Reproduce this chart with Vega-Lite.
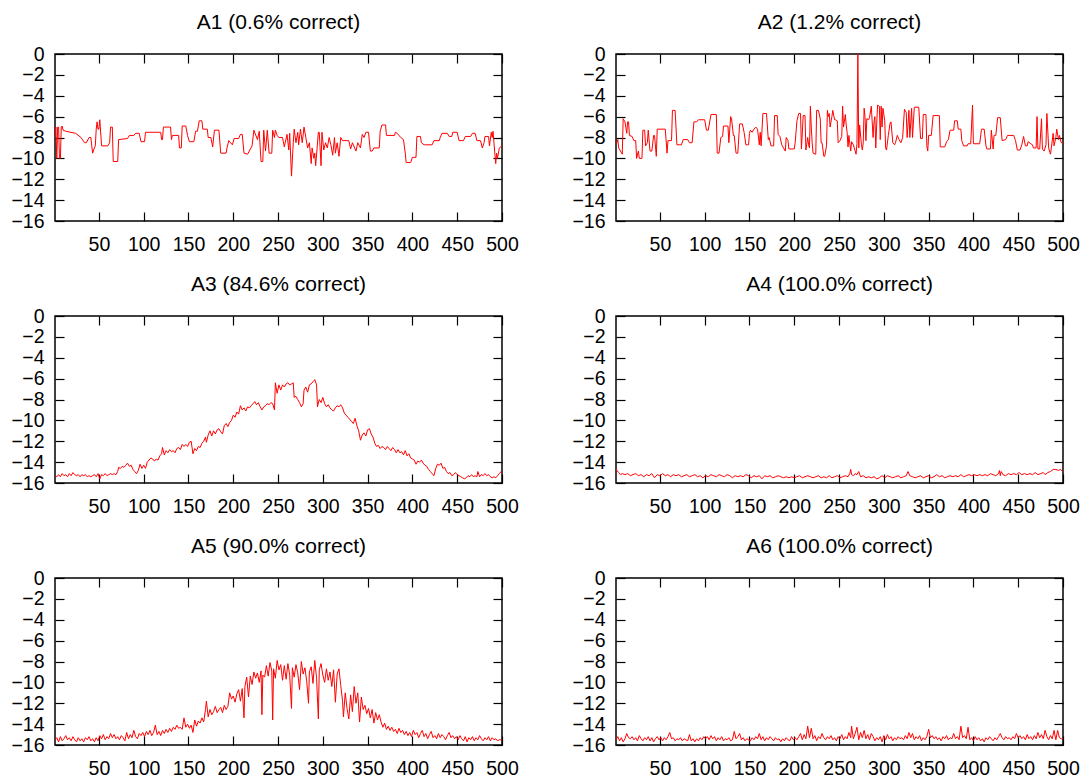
{
"$schema": "https://vega.github.io/schema/vega-lite/v6.json",
"background": "white",
"padding": {"left": 10, "top": 11, "right": 5, "bottom": 5},
"config": {
  "font": "Liberation Sans",
  "view": {"stroke": "#000", "strokeWidth": 1.5},
  "axis": {"domain": false, "grid": false, "tickColor": "#000", "tickWidth": 1.2, "tickSize": -9, "labelFont": "Liberation Sans", "labelFontSize": 19.5, "labelColor": "#000", "labelFlush": false, "labelOverlap": false},
  "title": {"font": "Liberation Sans", "fontSize": 21, "fontWeight": "normal", "color": "#000", "offset": 11}
},
"bounds": "flush",
"columns": 2,
"spacing": {"row": 95, "column": 114},
"datasets": {
"A1": [{"x":1,"y":-8.0},{"x":2,"y":-7.0},{"x":3,"y":-10.0},{"x":4,"y":-7.0},{"x":5,"y":-7.0},{"x":6,"y":-10.0},{"x":7,"y":-10.0},{"x":8,"y":-7.0},{"x":9,"y":-6.9},{"x":10,"y":-7.3},{"x":13,"y":-7.4},{"x":24,"y":-7.6},{"x":30,"y":-8.0},{"x":34,"y":-8.5},{"x":36,"y":-8.5},{"x":39,"y":-8.0},{"x":41,"y":-8.0},{"x":43,"y":-9.5},{"x":45,"y":-9.0},{"x":46,"y":-8.8},{"x":47,"y":-7.2},{"x":48,"y":-6.5},{"x":49,"y":-7.2},{"x":50,"y":-7.2},{"x":51,"y":-6.3},{"x":53,"y":-8.8},{"x":60,"y":-8.8},{"x":62,"y":-8.5},{"x":63,"y":-7.0},{"x":65,"y":-7.0},{"x":66,"y":-10.3},{"x":71,"y":-10.3},{"x":72,"y":-8.2},{"x":82,"y":-8.1},{"x":84,"y":-7.8},{"x":89,"y":-7.8},{"x":91,"y":-7.6},{"x":95,"y":-7.6},{"x":97,"y":-8.4},{"x":101,"y":-8.4},{"x":102,"y":-7.5},{"x":119,"y":-7.5},{"x":120,"y":-8.2},{"x":121,"y":-8.2},{"x":122,"y":-7.0},{"x":130,"y":-7.0},{"x":131,"y":-8.2},{"x":132,"y":-7.8},{"x":139,"y":-7.8},{"x":140,"y":-9.0},{"x":142,"y":-9.0},{"x":143,"y":-6.9},{"x":147,"y":-6.9},{"x":149,"y":-7.8},{"x":151,"y":-8.4},{"x":156,"y":-8.4},{"x":158,"y":-7.4},{"x":160,"y":-7.4},{"x":162,"y":-6.4},{"x":165,"y":-6.4},{"x":166,"y":-7.2},{"x":171,"y":-7.2},{"x":172,"y":-8.0},{"x":175,"y":-8.0},{"x":177,"y":-8.9},{"x":179,"y":-7.3},{"x":184,"y":-7.3},{"x":186,"y":-9.5},{"x":192,"y":-9.5},{"x":193,"y":-9.0},{"x":195,"y":-8.3},{"x":197,"y":-8.5},{"x":199,"y":-8.7},{"x":201,"y":-8.1},{"x":206,"y":-8.1},{"x":208,"y":-7.7},{"x":210,"y":-7.7},{"x":212,"y":-9.5},{"x":216,"y":-9.6},{"x":221,"y":-8.8},{"x":223,"y":-7.3},{"x":227,"y":-8.2},{"x":229,"y":-7.4},{"x":231,"y":-10.3},{"x":233,"y":-10.3},{"x":234,"y":-7.3},{"x":236,"y":-9.3},{"x":238,"y":-7.3},{"x":240,"y":-9.5},{"x":243,"y":-9.5},{"x":244,"y":-7.3},{"x":246,"y":-8.0},{"x":247,"y":-7.3},{"x":249,"y":-7.8},{"x":251,"y":-8.0},{"x":255,"y":-8.0},{"x":257,"y":-8.9},{"x":260,"y":-7.7},{"x":262,"y":-9.2},{"x":263,"y":-7.6},{"x":265,"y":-11.7},{"x":267,"y":-8.5},{"x":268,"y":-7.2},{"x":270,"y":-8.5},{"x":272,"y":-7.5},{"x":273,"y":-8.7},{"x":275,"y":-7.2},{"x":277,"y":-8.5},{"x":279,"y":-7.0},{"x":281,"y":-8.0},{"x":283,"y":-9.0},{"x":285,"y":-8.5},{"x":287,"y":-10.5},{"x":288,"y":-9.0},{"x":290,"y":-10.0},{"x":291,"y":-9.5},{"x":292,"y":-10.7},{"x":295,"y":-7.5},{"x":296,"y":-7.5},{"x":298,"y":-10.7},{"x":299,"y":-7.5},{"x":301,"y":-9.2},{"x":303,"y":-8.5},{"x":305,"y":-9.0},{"x":307,"y":-8.0},{"x":309,"y":-8.7},{"x":311,"y":-9.7},{"x":313,"y":-8.0},{"x":314,"y":-9.5},{"x":316,"y":-8.5},{"x":318,"y":-9.8},{"x":320,"y":-8.0},{"x":322,"y":-8.3},{"x":329,"y":-8.3},{"x":331,"y":-9.1},{"x":333,"y":-8.5},{"x":337,"y":-9.3},{"x":339,"y":-8.5},{"x":342,"y":-9.0},{"x":344,"y":-7.7},{"x":346,"y":-8.0},{"x":348,"y":-7.5},{"x":351,"y":-7.5},{"x":353,"y":-9.3},{"x":355,"y":-9.3},{"x":357,"y":-9.0},{"x":363,"y":-9.0},{"x":364,"y":-7.4},{"x":366,"y":-6.8},{"x":370,"y":-6.8},{"x":371,"y":-7.8},{"x":380,"y":-7.8},{"x":381,"y":-7.5},{"x":383,"y":-7.6},{"x":387,"y":-8.0},{"x":390,"y":-8.2},{"x":392,"y":-9.5},{"x":393,"y":-10.4},{"x":398,"y":-10.4},{"x":400,"y":-9.9},{"x":404,"y":-9.9},{"x":405,"y":-7.9},{"x":409,"y":-7.9},{"x":410,"y":-8.5},{"x":413,"y":-8.7},{"x":422,"y":-8.7},{"x":424,"y":-8.3},{"x":430,"y":-8.3},{"x":431,"y":-8.0},{"x":433,"y":-7.6},{"x":439,"y":-7.6},{"x":441,"y":-7.9},{"x":444,"y":-7.9},{"x":445,"y":-7.5},{"x":450,"y":-7.5},{"x":452,"y":-8.3},{"x":457,"y":-8.3},{"x":459,"y":-7.9},{"x":465,"y":-7.9},{"x":467,"y":-7.6},{"x":470,"y":-7.6},{"x":472,"y":-8.3},{"x":476,"y":-8.3},{"x":478,"y":-9.0},{"x":480,"y":-8.5},{"x":481,"y":-7.9},{"x":485,"y":-7.9},{"x":486,"y":-8.8},{"x":488,"y":-7.5},{"x":489,"y":-8.0},{"x":490,"y":-7.4},{"x":491,"y":-8.5},{"x":493,"y":-10.5},{"x":494,"y":-9.5},{"x":495,"y":-10.0},{"x":497,"y":-9.0},{"x":500,"y":-8.8}],
"A2": [{"x":1,"y":-8.5},{"x":2,"y":-8.5},{"x":3,"y":-8.2},{"x":4,"y":-9.0},{"x":6,"y":-9.3},{"x":8,"y":-9.6},{"x":9,"y":-6.2},{"x":11,"y":-6.5},{"x":13,"y":-7.6},{"x":14,"y":-6.5},{"x":15,"y":-6.5},{"x":16,"y":-7.8},{"x":19,"y":-7.9},{"x":21,"y":-8.3},{"x":23,"y":-8.3},{"x":24,"y":-10.0},{"x":26,"y":-9.3},{"x":27,"y":-10.0},{"x":30,"y":-10.0},{"x":31,"y":-7.3},{"x":33,"y":-7.3},{"x":34,"y":-8.8},{"x":36,"y":-8.5},{"x":37,"y":-7.3},{"x":39,"y":-9.3},{"x":41,"y":-9.3},{"x":43,"y":-7.8},{"x":44,"y":-7.8},{"x":46,"y":-9.8},{"x":47,"y":-7.2},{"x":56,"y":-7.2},{"x":58,"y":-9.5},{"x":59,"y":-8.3},{"x":63,"y":-8.3},{"x":64,"y":-5.4},{"x":67,"y":-5.4},{"x":69,"y":-8.7},{"x":74,"y":-8.7},{"x":76,"y":-8.2},{"x":81,"y":-8.2},{"x":83,"y":-8.5},{"x":86,"y":-8.5},{"x":88,"y":-6.5},{"x":91,"y":-6.5},{"x":93,"y":-6.3},{"x":100,"y":-6.3},{"x":102,"y":-7.3},{"x":104,"y":-7.3},{"x":107,"y":-5.8},{"x":113,"y":-5.8},{"x":114,"y":-9.5},{"x":116,"y":-9.5},{"x":118,"y":-8.0},{"x":120,"y":-7.9},{"x":121,"y":-6.9},{"x":126,"y":-6.9},{"x":127,"y":-8.5},{"x":129,"y":-6.0},{"x":130,"y":-6.2},{"x":132,"y":-7.8},{"x":133,"y":-7.8},{"x":135,"y":-9.5},{"x":137,"y":-9.5},{"x":139,"y":-6.7},{"x":142,"y":-6.7},{"x":144,"y":-7.5},{"x":146,"y":-8.7},{"x":149,"y":-8.7},{"x":150,"y":-7.6},{"x":151,"y":-7.3},{"x":153,"y":-7.5},{"x":155,"y":-7.2},{"x":157,"y":-7.0},{"x":159,"y":-7.2},{"x":161,"y":-8.7},{"x":162,"y":-7.5},{"x":163,"y":-8.8},{"x":165,"y":-5.7},{"x":169,"y":-5.7},{"x":171,"y":-8.2},{"x":172,"y":-8.0},{"x":174,"y":-8.8},{"x":177,"y":-8.8},{"x":178,"y":-5.9},{"x":181,"y":-5.9},{"x":182,"y":-7.7},{"x":184,"y":-7.9},{"x":186,"y":-8.7},{"x":188,"y":-9.0},{"x":190,"y":-9.3},{"x":191,"y":-8.0},{"x":193,"y":-8.3},{"x":194,"y":-9.1},{"x":200,"y":-9.1},{"x":201,"y":-8.5},{"x":203,"y":-6.4},{"x":205,"y":-5.7},{"x":207,"y":-5.7},{"x":208,"y":-9.1},{"x":210,"y":-5.9},{"x":212,"y":-5.9},{"x":213,"y":-9.2},{"x":215,"y":-8.0},{"x":216,"y":-8.7},{"x":217,"y":-9.0},{"x":218,"y":-5.0},{"x":219,"y":-7.0},{"x":220,"y":-8.5},{"x":221,"y":-9.5},{"x":224,"y":-9.6},{"x":225,"y":-5.4},{"x":227,"y":-5.4},{"x":229,"y":-6.2},{"x":230,"y":-8.5},{"x":231,"y":-8.5},{"x":233,"y":-9.8},{"x":234,"y":-9.8},{"x":236,"y":-8.8},{"x":237,"y":-5.4},{"x":238,"y":-6.0},{"x":239,"y":-5.7},{"x":240,"y":-7.0},{"x":242,"y":-6.0},{"x":243,"y":-5.4},{"x":245,"y":-6.3},{"x":246,"y":-6.3},{"x":248,"y":-6.4},{"x":249,"y":-8.5},{"x":251,"y":-8.3},{"x":253,"y":-7.9},{"x":254,"y":-5.0},{"x":255,"y":-7.0},{"x":257,"y":-5.8},{"x":258,"y":-6.8},{"x":259,"y":-7.5},{"x":260,"y":-8.9},{"x":261,"y":-7.8},{"x":263,"y":-9.3},{"x":264,"y":-8.4},{"x":266,"y":-8.7},{"x":267,"y":-9.0},{"x":269,"y":-9.6},{"x":270,"y":-8.6},{"x":271,"y":0},{"x":272,"y":-9.0},{"x":273,"y":-6.8},{"x":275,"y":-8.7},{"x":276,"y":-9.2},{"x":277,"y":-8.5},{"x":278,"y":-5.2},{"x":279,"y":-6.0},{"x":280,"y":-8.3},{"x":281,"y":-6.2},{"x":283,"y":-6.3},{"x":284,"y":-6.1},{"x":286,"y":-5.0},{"x":287,"y":-6.5},{"x":288,"y":-8.0},{"x":289,"y":-6.5},{"x":290,"y":-6.0},{"x":291,"y":-9.0},{"x":292,"y":-6.8},{"x":293,"y":-4.9},{"x":295,"y":-5.0},{"x":296,"y":-8.2},{"x":297,"y":-5.0},{"x":298,"y":-7.0},{"x":299,"y":-5.2},{"x":301,"y":-6.4},{"x":302,"y":-9.0},{"x":303,"y":-9.2},{"x":305,"y":-7.8},{"x":307,"y":-6.6},{"x":308,"y":-6.5},{"x":310,"y":-8.5},{"x":312,"y":-8.7},{"x":313,"y":-8.5},{"x":315,"y":-7.8},{"x":317,"y":-8.2},{"x":319,"y":-8.5},{"x":321,"y":-8.0},{"x":323,"y":-5.3},{"x":325,"y":-5.6},{"x":326,"y":-8.0},{"x":328,"y":-5.4},{"x":329,"y":-8.0},{"x":331,"y":-5.2},{"x":332,"y":-8.0},{"x":334,"y":-5.1},{"x":339,"y":-5.1},{"x":341,"y":-8.1},{"x":343,"y":-8.1},{"x":344,"y":-5.8},{"x":347,"y":-5.8},{"x":348,"y":-8.8},{"x":349,"y":-9.3},{"x":350,"y":-7.8},{"x":353,"y":-7.8},{"x":355,"y":-5.9},{"x":362,"y":-5.9},{"x":363,"y":-8.9},{"x":368,"y":-8.9},{"x":370,"y":-8.4},{"x":372,"y":-8.2},{"x":374,"y":-7.3},{"x":378,"y":-7.3},{"x":379,"y":-6.4},{"x":382,"y":-6.4},{"x":383,"y":-7.2},{"x":386,"y":-7.2},{"x":387,"y":-8.3},{"x":389,"y":-8.8},{"x":393,"y":-8.8},{"x":394,"y":-8.6},{"x":397,"y":-8.6},{"x":399,"y":-4.9},{"x":400,"y":-8.6},{"x":407,"y":-8.6},{"x":409,"y":-7.2},{"x":412,"y":-7.2},{"x":414,"y":-8.8},{"x":415,"y":-9.1},{"x":419,"y":-9.1},{"x":420,"y":-7.3},{"x":422,"y":-9.1},{"x":423,"y":-7.8},{"x":425,"y":-7.8},{"x":427,"y":-6.1},{"x":430,"y":-6.1},{"x":432,"y":-8.3},{"x":436,"y":-8.2},{"x":438,"y":-7.8},{"x":445,"y":-7.8},{"x":447,"y":-8.3},{"x":449,"y":-9.2},{"x":452,"y":-9.2},{"x":454,"y":-8.7},{"x":456,"y":-7.9},{"x":458,"y":-8.8},{"x":460,"y":-8.8},{"x":461,"y":-8.4},{"x":464,"y":-8.6},{"x":466,"y":-8.7},{"x":467,"y":-9.0},{"x":470,"y":-9.0},{"x":471,"y":-6.0},{"x":472,"y":-9.1},{"x":474,"y":-9.1},{"x":476,"y":-6.2},{"x":477,"y":-9.1},{"x":479,"y":-9.3},{"x":481,"y":-8.7},{"x":482,"y":-5.7},{"x":484,"y":-9.0},{"x":486,"y":-9.6},{"x":487,"y":-9.0},{"x":489,"y":-7.6},{"x":490,"y":-8.8},{"x":492,"y":-8.0},{"x":493,"y":-7.2},{"x":495,"y":-8.2},{"x":496,"y":-7.8},{"x":498,"y":-8.5},{"x":500,"y":-8.5}],
"A3": [{"x":1,"y":-15.3},{"x":3,"y":-15.4},{"x":5,"y":-15.2},{"x":7,"y":-15.4},{"x":9,"y":-15.1},{"x":11,"y":-15.3},{"x":13,"y":-15.2},{"x":15,"y":-15.4},{"x":17,"y":-15.1},{"x":19,"y":-15.3},{"x":21,"y":-15.0},{"x":23,"y":-15.2},{"x":25,"y":-15.3},{"x":27,"y":-15.2},{"x":29,"y":-15.4},{"x":31,"y":-15.2},{"x":33,"y":-15.3},{"x":35,"y":-15.2},{"x":37,"y":-15.4},{"x":39,"y":-15.3},{"x":41,"y":-15.4},{"x":43,"y":-15.3},{"x":45,"y":-15.2},{"x":47,"y":-15.4},{"x":49,"y":-15.1},{"x":51,"y":-15.6},{"x":53,"y":-15.2},{"x":55,"y":-15.3},{"x":57,"y":-15.1},{"x":59,"y":-15.3},{"x":61,"y":-15.2},{"x":63,"y":-15.1},{"x":65,"y":-15.2},{"x":67,"y":-15.1},{"x":69,"y":-15.2},{"x":71,"y":-14.9},{"x":72,"y":-14.5},{"x":74,"y":-14.6},{"x":76,"y":-14.4},{"x":78,"y":-14.5},{"x":80,"y":-14.3},{"x":82,"y":-14.1},{"x":84,"y":-14.4},{"x":86,"y":-14.3},{"x":88,"y":-14.7},{"x":90,"y":-14.9},{"x":92,"y":-15.1},{"x":94,"y":-14.8},{"x":96,"y":-14.2},{"x":98,"y":-14.6},{"x":100,"y":-14.3},{"x":102,"y":-14.6},{"x":104,"y":-14.0},{"x":106,"y":-13.8},{"x":108,"y":-13.6},{"x":110,"y":-13.7},{"x":112,"y":-13.9},{"x":114,"y":-13.7},{"x":116,"y":-13.8},{"x":118,"y":-13.4},{"x":120,"y":-13.2},{"x":121,"y":-12.6},{"x":123,"y":-13.3},{"x":125,"y":-12.9},{"x":127,"y":-13.1},{"x":129,"y":-12.8},{"x":131,"y":-13.0},{"x":133,"y":-12.9},{"x":135,"y":-13.1},{"x":137,"y":-12.7},{"x":139,"y":-12.6},{"x":141,"y":-12.8},{"x":143,"y":-12.3},{"x":145,"y":-12.5},{"x":147,"y":-12.3},{"x":149,"y":-12.5},{"x":151,"y":-12.1},{"x":153,"y":-12.0},{"x":154,"y":-12.6},{"x":155,"y":-13.2},{"x":157,"y":-12.7},{"x":159,"y":-12.9},{"x":161,"y":-12.5},{"x":163,"y":-12.6},{"x":165,"y":-12.2},{"x":167,"y":-12.0},{"x":169,"y":-11.6},{"x":170,"y":-12.1},{"x":172,"y":-11.4},{"x":174,"y":-11.0},{"x":176,"y":-11.5},{"x":178,"y":-11.0},{"x":180,"y":-11.3},{"x":182,"y":-10.9},{"x":184,"y":-10.8},{"x":186,"y":-11.1},{"x":188,"y":-11.3},{"x":190,"y":-10.5},{"x":192,"y":-10.3},{"x":194,"y":-10.6},{"x":196,"y":-10.2},{"x":198,"y":-10.0},{"x":200,"y":-9.5},{"x":202,"y":-9.7},{"x":204,"y":-9.2},{"x":206,"y":-9.4},{"x":208,"y":-8.6},{"x":210,"y":-9.0},{"x":212,"y":-8.8},{"x":214,"y":-9.1},{"x":216,"y":-8.7},{"x":218,"y":-8.8},{"x":220,"y":-8.6},{"x":222,"y":-8.4},{"x":224,"y":-8.2},{"x":226,"y":-8.5},{"x":228,"y":-8.3},{"x":230,"y":-8.7},{"x":232,"y":-9.0},{"x":234,"y":-8.7},{"x":236,"y":-8.6},{"x":238,"y":-8.4},{"x":240,"y":-8.5},{"x":242,"y":-8.3},{"x":244,"y":-8.4},{"x":246,"y":-9.0},{"x":247,"y":-6.4},{"x":249,"y":-7.4},{"x":251,"y":-6.6},{"x":253,"y":-7.1},{"x":255,"y":-6.6},{"x":257,"y":-6.8},{"x":259,"y":-6.5},{"x":261,"y":-6.4},{"x":263,"y":-6.6},{"x":265,"y":-6.5},{"x":267,"y":-6.4},{"x":268,"y":-7.8},{"x":270,"y":-7.7},{"x":272,"y":-8.0},{"x":274,"y":-8.3},{"x":276,"y":-8.7},{"x":278,"y":-8.4},{"x":279,"y":-7.1},{"x":281,"y":-6.8},{"x":283,"y":-7.3},{"x":285,"y":-6.6},{"x":287,"y":-6.5},{"x":289,"y":-6.3},{"x":291,"y":-6.1},{"x":293,"y":-6.6},{"x":294,"y":-8.7},{"x":296,"y":-8.0},{"x":298,"y":-8.3},{"x":300,"y":-7.8},{"x":302,"y":-8.4},{"x":304,"y":-8.7},{"x":306,"y":-8.5},{"x":308,"y":-8.8},{"x":310,"y":-9.0},{"x":312,"y":-9.1},{"x":314,"y":-8.8},{"x":316,"y":-8.6},{"x":318,"y":-8.7},{"x":320,"y":-8.5},{"x":322,"y":-8.8},{"x":324,"y":-9.3},{"x":326,"y":-9.5},{"x":328,"y":-9.7},{"x":330,"y":-9.9},{"x":332,"y":-10.1},{"x":334,"y":-10.3},{"x":336,"y":-9.8},{"x":338,"y":-10.5},{"x":340,"y":-11.0},{"x":342,"y":-11.9},{"x":344,"y":-11.4},{"x":346,"y":-11.2},{"x":348,"y":-11.5},{"x":350,"y":-10.9},{"x":352,"y":-10.8},{"x":354,"y":-11.3},{"x":356,"y":-11.6},{"x":358,"y":-12.2},{"x":360,"y":-12.5},{"x":362,"y":-12.4},{"x":364,"y":-12.7},{"x":366,"y":-12.5},{"x":368,"y":-12.6},{"x":370,"y":-12.8},{"x":372,"y":-12.5},{"x":374,"y":-12.7},{"x":376,"y":-12.9},{"x":378,"y":-12.6},{"x":380,"y":-12.8},{"x":382,"y":-13.1},{"x":384,"y":-12.8},{"x":386,"y":-13.1},{"x":388,"y":-13.0},{"x":390,"y":-13.3},{"x":392,"y":-12.9},{"x":394,"y":-13.4},{"x":396,"y":-13.2},{"x":398,"y":-13.6},{"x":400,"y":-13.7},{"x":402,"y":-13.8},{"x":404,"y":-14.2},{"x":406,"y":-13.9},{"x":408,"y":-14.0},{"x":410,"y":-13.8},{"x":412,"y":-14.1},{"x":414,"y":-14.3},{"x":416,"y":-14.4},{"x":418,"y":-14.7},{"x":420,"y":-14.9},{"x":422,"y":-15.1},{"x":424,"y":-15.3},{"x":426,"y":-14.6},{"x":428,"y":-14.2},{"x":430,"y":-14.3},{"x":432,"y":-14.1},{"x":434,"y":-14.6},{"x":436,"y":-14.5},{"x":438,"y":-14.9},{"x":440,"y":-15.1},{"x":442,"y":-15.0},{"x":444,"y":-15.3},{"x":446,"y":-15.2},{"x":448,"y":-15.0},{"x":450,"y":-15.2},{"x":452,"y":-15.3},{"x":454,"y":-15.4},{"x":456,"y":-15.5},{"x":458,"y":-15.6},{"x":460,"y":-15.5},{"x":462,"y":-15.3},{"x":464,"y":-15.4},{"x":466,"y":-15.2},{"x":468,"y":-15.4},{"x":470,"y":-15.3},{"x":472,"y":-15.4},{"x":473,"y":-14.9},{"x":475,"y":-15.4},{"x":477,"y":-15.2},{"x":479,"y":-15.3},{"x":481,"y":-15.1},{"x":483,"y":-15.3},{"x":485,"y":-15.2},{"x":487,"y":-15.4},{"x":489,"y":-15.5},{"x":491,"y":-15.4},{"x":493,"y":-15.5},{"x":495,"y":-15.3},{"x":497,"y":-15.1},{"x":499,"y":-14.9},{"x":500,"y":-15.0}],
"A4": [{"x":1,"y":-14.6},{"x":2,"y":-14.8},{"x":4,"y":-15.0},{"x":6,"y":-15.2},{"x":8,"y":-15.1},{"x":11,"y":-15.2},{"x":14,"y":-15.1},{"x":17,"y":-15.3},{"x":20,"y":-15.2},{"x":23,"y":-15.1},{"x":26,"y":-15.3},{"x":29,"y":-15.2},{"x":32,"y":-15.4},{"x":35,"y":-15.2},{"x":38,"y":-15.3},{"x":41,"y":-15.1},{"x":44,"y":-15.5},{"x":47,"y":-15.2},{"x":50,"y":-15.3},{"x":53,"y":-15.1},{"x":56,"y":-15.3},{"x":59,"y":-15.2},{"x":62,"y":-15.4},{"x":65,"y":-15.2},{"x":68,"y":-15.3},{"x":71,"y":-15.2},{"x":74,"y":-15.4},{"x":77,"y":-15.3},{"x":80,"y":-15.2},{"x":83,"y":-15.4},{"x":86,"y":-15.3},{"x":89,"y":-15.2},{"x":92,"y":-15.4},{"x":95,"y":-15.3},{"x":98,"y":-15.5},{"x":101,"y":-15.3},{"x":104,"y":-15.4},{"x":107,"y":-15.2},{"x":110,"y":-15.3},{"x":113,"y":-15.4},{"x":116,"y":-15.2},{"x":119,"y":-15.3},{"x":122,"y":-15.4},{"x":125,"y":-15.2},{"x":128,"y":-15.3},{"x":131,"y":-15.5},{"x":134,"y":-15.3},{"x":137,"y":-15.4},{"x":140,"y":-15.3},{"x":143,"y":-15.4},{"x":146,"y":-15.2},{"x":149,"y":-15.3},{"x":152,"y":-15.5},{"x":155,"y":-15.3},{"x":158,"y":-15.4},{"x":161,"y":-15.3},{"x":164,"y":-15.6},{"x":167,"y":-15.3},{"x":170,"y":-15.4},{"x":173,"y":-15.3},{"x":176,"y":-15.5},{"x":179,"y":-15.4},{"x":182,"y":-15.3},{"x":185,"y":-15.4},{"x":188,"y":-15.5},{"x":191,"y":-15.4},{"x":194,"y":-15.5},{"x":197,"y":-15.4},{"x":200,"y":-15.5},{"x":203,"y":-15.4},{"x":206,"y":-15.3},{"x":209,"y":-15.5},{"x":212,"y":-15.4},{"x":215,"y":-15.3},{"x":218,"y":-15.4},{"x":221,"y":-15.5},{"x":224,"y":-15.4},{"x":227,"y":-15.3},{"x":230,"y":-15.5},{"x":233,"y":-15.4},{"x":236,"y":-15.5},{"x":239,"y":-15.3},{"x":242,"y":-15.5},{"x":245,"y":-15.4},{"x":248,"y":-15.3},{"x":251,"y":-15.5},{"x":254,"y":-15.4},{"x":257,"y":-15.3},{"x":260,"y":-15.4},{"x":262,"y":-15.1},{"x":263,"y":-14.7},{"x":264,"y":-15.2},{"x":266,"y":-15.3},{"x":268,"y":-15.1},{"x":270,"y":-15.2},{"x":272,"y":-14.9},{"x":274,"y":-15.4},{"x":277,"y":-15.3},{"x":280,"y":-15.5},{"x":283,"y":-15.4},{"x":286,"y":-15.5},{"x":289,"y":-15.4},{"x":292,"y":-15.6},{"x":295,"y":-15.5},{"x":298,"y":-15.3},{"x":301,"y":-15.5},{"x":304,"y":-15.3},{"x":307,"y":-15.4},{"x":310,"y":-15.5},{"x":313,"y":-15.4},{"x":316,"y":-15.3},{"x":319,"y":-15.5},{"x":322,"y":-15.4},{"x":325,"y":-15.3},{"x":327,"y":-14.9},{"x":329,"y":-15.3},{"x":332,"y":-15.4},{"x":335,"y":-15.5},{"x":338,"y":-15.4},{"x":341,"y":-15.3},{"x":344,"y":-15.5},{"x":347,"y":-15.4},{"x":350,"y":-15.3},{"x":353,"y":-15.5},{"x":356,"y":-15.4},{"x":359,"y":-15.2},{"x":362,"y":-15.4},{"x":365,"y":-15.3},{"x":368,"y":-15.5},{"x":371,"y":-15.4},{"x":374,"y":-15.3},{"x":377,"y":-15.4},{"x":380,"y":-15.3},{"x":383,"y":-15.4},{"x":386,"y":-15.2},{"x":389,"y":-15.4},{"x":392,"y":-15.3},{"x":395,"y":-15.2},{"x":398,"y":-15.3},{"x":401,"y":-15.2},{"x":404,"y":-15.3},{"x":407,"y":-15.2},{"x":410,"y":-15.3},{"x":413,"y":-15.2},{"x":416,"y":-15.3},{"x":419,"y":-15.1},{"x":422,"y":-15.2},{"x":425,"y":-15.3},{"x":428,"y":-15.1},{"x":429,"y":-14.8},{"x":430,"y":-15.3},{"x":431,"y":-14.9},{"x":433,"y":-15.2},{"x":436,"y":-15.3},{"x":439,"y":-15.1},{"x":442,"y":-15.2},{"x":445,"y":-15.1},{"x":448,"y":-15.2},{"x":451,"y":-15.0},{"x":454,"y":-15.2},{"x":457,"y":-15.1},{"x":460,"y":-15.2},{"x":463,"y":-15.1},{"x":466,"y":-15.2},{"x":469,"y":-15.0},{"x":472,"y":-15.2},{"x":475,"y":-15.1},{"x":478,"y":-15.0},{"x":480,"y":-15.2},{"x":483,"y":-15.0},{"x":486,"y":-14.9},{"x":489,"y":-14.7},{"x":492,"y":-14.7},{"x":495,"y":-14.8},{"x":497,"y":-14.7},{"x":500,"y":-14.9}],
"A5": [{"x":1,"y":-15.5},{"x":3,"y":-15.3},{"x":5,"y":-15.7},{"x":7,"y":-15.2},{"x":9,"y":-15.6},{"x":11,"y":-15.4},{"x":13,"y":-15.1},{"x":15,"y":-15.5},{"x":17,"y":-15.3},{"x":19,"y":-15.6},{"x":21,"y":-15.2},{"x":23,"y":-15.5},{"x":25,"y":-15.7},{"x":27,"y":-15.3},{"x":29,"y":-15.6},{"x":31,"y":-15.4},{"x":33,"y":-15.7},{"x":35,"y":-15.3},{"x":37,"y":-15.5},{"x":39,"y":-15.2},{"x":41,"y":-15.6},{"x":43,"y":-15.4},{"x":45,"y":-15.7},{"x":47,"y":-15.3},{"x":49,"y":-15.6},{"x":51,"y":-15.1},{"x":53,"y":-15.4},{"x":55,"y":-15.0},{"x":57,"y":-15.5},{"x":59,"y":-15.2},{"x":61,"y":-15.4},{"x":63,"y":-14.9},{"x":65,"y":-15.3},{"x":67,"y":-15.0},{"x":69,"y":-15.4},{"x":71,"y":-15.2},{"x":73,"y":-15.5},{"x":75,"y":-15.1},{"x":77,"y":-15.3},{"x":79,"y":-15.6},{"x":81,"y":-14.8},{"x":83,"y":-15.4},{"x":85,"y":-15.0},{"x":87,"y":-15.3},{"x":89,"y":-14.6},{"x":91,"y":-15.2},{"x":93,"y":-15.4},{"x":95,"y":-14.9},{"x":97,"y":-15.1},{"x":99,"y":-14.8},{"x":101,"y":-15.2},{"x":103,"y":-14.7},{"x":105,"y":-15.0},{"x":107,"y":-14.6},{"x":109,"y":-15.1},{"x":111,"y":-14.8},{"x":113,"y":-14.1},{"x":115,"y":-15.0},{"x":117,"y":-14.7},{"x":119,"y":-15.1},{"x":121,"y":-14.6},{"x":123,"y":-14.9},{"x":125,"y":-14.5},{"x":127,"y":-14.8},{"x":129,"y":-14.4},{"x":131,"y":-14.7},{"x":133,"y":-14.3},{"x":135,"y":-14.5},{"x":137,"y":-14.1},{"x":139,"y":-14.4},{"x":141,"y":-14.3},{"x":143,"y":-14.5},{"x":145,"y":-13.4},{"x":147,"y":-14.3},{"x":149,"y":-14.0},{"x":151,"y":-14.4},{"x":153,"y":-14.1},{"x":155,"y":-14.8},{"x":157,"y":-13.6},{"x":159,"y":-14.2},{"x":161,"y":-13.7},{"x":163,"y":-13.9},{"x":165,"y":-13.4},{"x":167,"y":-13.8},{"x":169,"y":-12.6},{"x":170,"y":-11.8},{"x":172,"y":-13.3},{"x":174,"y":-12.6},{"x":176,"y":-13.1},{"x":178,"y":-12.8},{"x":180,"y":-12.3},{"x":182,"y":-12.9},{"x":184,"y":-12.6},{"x":186,"y":-12.4},{"x":188,"y":-12.9},{"x":190,"y":-12.2},{"x":192,"y":-12.6},{"x":194,"y":-12.3},{"x":196,"y":-11.0},{"x":198,"y":-11.6},{"x":200,"y":-11.3},{"x":202,"y":-11.9},{"x":204,"y":-11.1},{"x":206,"y":-10.7},{"x":208,"y":-11.8},{"x":210,"y":-10.6},{"x":212,"y":-13.4},{"x":213,"y":-10.4},{"x":215,"y":-9.5},{"x":217,"y":-11.4},{"x":219,"y":-9.4},{"x":221,"y":-10.2},{"x":223,"y":-9.0},{"x":225,"y":-9.6},{"x":227,"y":-9.1},{"x":229,"y":-10.0},{"x":231,"y":-8.9},{"x":232,"y":-13.1},{"x":233,"y":-9.3},{"x":235,"y":-9.5},{"x":237,"y":-8.4},{"x":239,"y":-9.4},{"x":241,"y":-8.1},{"x":243,"y":-8.9},{"x":244,"y":-13.6},{"x":245,"y":-8.7},{"x":247,"y":-9.6},{"x":249,"y":-7.9},{"x":251,"y":-8.8},{"x":253,"y":-8.3},{"x":255,"y":-9.8},{"x":257,"y":-8.4},{"x":259,"y":-9.7},{"x":261,"y":-8.2},{"x":263,"y":-9.3},{"x":265,"y":-12.5},{"x":266,"y":-8.6},{"x":268,"y":-9.5},{"x":270,"y":-8.3},{"x":272,"y":-9.1},{"x":274,"y":-10.7},{"x":276,"y":-8.0},{"x":278,"y":-9.2},{"x":280,"y":-8.6},{"x":282,"y":-9.9},{"x":284,"y":-12.0},{"x":285,"y":-9.0},{"x":287,"y":-8.5},{"x":289,"y":-10.1},{"x":291,"y":-7.9},{"x":293,"y":-9.6},{"x":295,"y":-13.5},{"x":296,"y":-8.8},{"x":298,"y":-8.2},{"x":300,"y":-9.3},{"x":302,"y":-10.0},{"x":304,"y":-8.7},{"x":306,"y":-9.8},{"x":308,"y":-9.0},{"x":310,"y":-10.4},{"x":312,"y":-8.8},{"x":314,"y":-11.9},{"x":316,"y":-9.2},{"x":318,"y":-8.7},{"x":320,"y":-10.3},{"x":322,"y":-11.8},{"x":323,"y":-13.3},{"x":325,"y":-11.0},{"x":327,"y":-12.5},{"x":329,"y":-13.5},{"x":331,"y":-11.2},{"x":333,"y":-12.8},{"x":335,"y":-10.4},{"x":337,"y":-12.0},{"x":339,"y":-11.0},{"x":341,"y":-13.8},{"x":343,"y":-11.4},{"x":345,"y":-12.6},{"x":347,"y":-12.2},{"x":349,"y":-13.0},{"x":351,"y":-12.5},{"x":353,"y":-13.4},{"x":355,"y":-12.6},{"x":357,"y":-13.9},{"x":359,"y":-12.9},{"x":361,"y":-13.6},{"x":363,"y":-13.1},{"x":365,"y":-13.8},{"x":367,"y":-14.3},{"x":369,"y":-13.9},{"x":371,"y":-14.5},{"x":373,"y":-14.2},{"x":375,"y":-14.6},{"x":377,"y":-14.3},{"x":379,"y":-14.7},{"x":381,"y":-14.5},{"x":383,"y":-14.9},{"x":385,"y":-14.4},{"x":387,"y":-14.8},{"x":389,"y":-14.6},{"x":391,"y":-15.0},{"x":393,"y":-14.7},{"x":395,"y":-15.1},{"x":397,"y":-14.8},{"x":399,"y":-15.2},{"x":401,"y":-14.6},{"x":403,"y":-15.0},{"x":405,"y":-14.8},{"x":407,"y":-15.3},{"x":409,"y":-14.9},{"x":411,"y":-14.6},{"x":413,"y":-15.2},{"x":415,"y":-14.9},{"x":417,"y":-15.4},{"x":419,"y":-15.0},{"x":421,"y":-14.7},{"x":423,"y":-15.3},{"x":425,"y":-15.1},{"x":427,"y":-15.4},{"x":429,"y":-14.9},{"x":431,"y":-15.3},{"x":433,"y":-15.0},{"x":435,"y":-15.2},{"x":437,"y":-15.5},{"x":439,"y":-15.1},{"x":441,"y":-14.8},{"x":443,"y":-15.3},{"x":445,"y":-15.1},{"x":447,"y":-15.4},{"x":449,"y":-15.2},{"x":451,"y":-15.5},{"x":453,"y":-15.1},{"x":455,"y":-15.4},{"x":457,"y":-15.6},{"x":459,"y":-15.2},{"x":461,"y":-15.7},{"x":463,"y":-15.3},{"x":465,"y":-15.5},{"x":467,"y":-15.2},{"x":469,"y":-15.6},{"x":471,"y":-15.3},{"x":473,"y":-15.5},{"x":475,"y":-15.1},{"x":477,"y":-15.4},{"x":479,"y":-15.6},{"x":481,"y":-15.3},{"x":483,"y":-15.5},{"x":485,"y":-15.2},{"x":487,"y":-15.6},{"x":489,"y":-15.3},{"x":491,"y":-15.5},{"x":493,"y":-15.4},{"x":495,"y":-15.6},{"x":497,"y":-15.5},{"x":500,"y":-15.5}],
"A6": [{"x":1,"y":-15.5},{"x":3,"y":-15.2},{"x":5,"y":-15.6},{"x":7,"y":-15.3},{"x":9,"y":-15.7},{"x":11,"y":-15.4},{"x":13,"y":-14.9},{"x":15,"y":-15.3},{"x":17,"y":-15.4},{"x":19,"y":-15.2},{"x":21,"y":-15.5},{"x":23,"y":-15.3},{"x":25,"y":-15.6},{"x":27,"y":-15.1},{"x":29,"y":-15.4},{"x":31,"y":-15.6},{"x":33,"y":-15.3},{"x":35,"y":-15.5},{"x":37,"y":-15.2},{"x":39,"y":-15.6},{"x":41,"y":-15.3},{"x":43,"y":-15.7},{"x":45,"y":-15.4},{"x":47,"y":-15.2},{"x":49,"y":-15.5},{"x":51,"y":-15.3},{"x":53,"y":-15.6},{"x":55,"y":-15.3},{"x":57,"y":-15.5},{"x":59,"y":-15.2},{"x":61,"y":-14.8},{"x":63,"y":-15.4},{"x":65,"y":-15.3},{"x":67,"y":-15.6},{"x":69,"y":-15.4},{"x":71,"y":-15.5},{"x":73,"y":-15.3},{"x":75,"y":-15.6},{"x":77,"y":-15.4},{"x":79,"y":-15.5},{"x":81,"y":-15.6},{"x":83,"y":-15.0},{"x":85,"y":-15.6},{"x":87,"y":-15.4},{"x":89,"y":-15.7},{"x":91,"y":-15.4},{"x":93,"y":-15.6},{"x":95,"y":-15.3},{"x":97,"y":-15.5},{"x":99,"y":-15.2},{"x":101,"y":-15.4},{"x":103,"y":-15.2},{"x":105,"y":-15.5},{"x":107,"y":-15.1},{"x":109,"y":-15.4},{"x":111,"y":-15.2},{"x":113,"y":-15.6},{"x":115,"y":-15.3},{"x":117,"y":-15.5},{"x":119,"y":-15.2},{"x":121,"y":-15.6},{"x":123,"y":-15.4},{"x":125,"y":-15.5},{"x":127,"y":-15.3},{"x":129,"y":-15.6},{"x":131,"y":-15.5},{"x":133,"y":-14.7},{"x":135,"y":-15.4},{"x":137,"y":-15.2},{"x":139,"y":-14.9},{"x":141,"y":-15.5},{"x":143,"y":-15.3},{"x":145,"y":-15.6},{"x":147,"y":-15.4},{"x":149,"y":-15.5},{"x":151,"y":-15.6},{"x":153,"y":-15.3},{"x":155,"y":-15.5},{"x":157,"y":-15.2},{"x":159,"y":-15.4},{"x":161,"y":-14.9},{"x":163,"y":-15.5},{"x":165,"y":-15.2},{"x":167,"y":-15.6},{"x":169,"y":-15.3},{"x":171,"y":-15.5},{"x":173,"y":-15.2},{"x":175,"y":-15.4},{"x":177,"y":-15.6},{"x":179,"y":-15.3},{"x":181,"y":-15.5},{"x":183,"y":-15.4},{"x":185,"y":-15.7},{"x":187,"y":-15.4},{"x":189,"y":-15.6},{"x":191,"y":-15.3},{"x":193,"y":-15.5},{"x":195,"y":-15.6},{"x":197,"y":-15.2},{"x":199,"y":-15.5},{"x":201,"y":-15.3},{"x":203,"y":-15.5},{"x":205,"y":-15.2},{"x":207,"y":-14.9},{"x":209,"y":-15.5},{"x":211,"y":-15.0},{"x":213,"y":-15.4},{"x":215,"y":-14.2},{"x":217,"y":-15.3},{"x":219,"y":-14.4},{"x":221,"y":-15.4},{"x":223,"y":-15.1},{"x":225,"y":-15.6},{"x":227,"y":-15.2},{"x":229,"y":-15.4},{"x":231,"y":-14.9},{"x":233,"y":-15.3},{"x":235,"y":-15.5},{"x":237,"y":-15.2},{"x":239,"y":-15.4},{"x":241,"y":-15.1},{"x":243,"y":-15.5},{"x":245,"y":-15.3},{"x":247,"y":-15.6},{"x":249,"y":-15.2},{"x":251,"y":-15.4},{"x":253,"y":-15.0},{"x":255,"y":-15.5},{"x":257,"y":-15.2},{"x":259,"y":-15.4},{"x":261,"y":-14.8},{"x":263,"y":-15.3},{"x":264,"y":-14.2},{"x":266,"y":-15.4},{"x":268,"y":-14.9},{"x":270,"y":-14.3},{"x":272,"y":-15.5},{"x":274,"y":-14.8},{"x":276,"y":-15.3},{"x":278,"y":-14.6},{"x":280,"y":-15.4},{"x":282,"y":-15.0},{"x":284,"y":-15.5},{"x":286,"y":-14.9},{"x":288,"y":-15.2},{"x":290,"y":-15.6},{"x":292,"y":-15.3},{"x":294,"y":-15.5},{"x":296,"y":-15.2},{"x":298,"y":-15.7},{"x":300,"y":-15.1},{"x":302,"y":-15.5},{"x":304,"y":-15.0},{"x":306,"y":-15.4},{"x":308,"y":-15.2},{"x":310,"y":-15.6},{"x":312,"y":-15.3},{"x":314,"y":-15.5},{"x":316,"y":-15.2},{"x":318,"y":-15.4},{"x":320,"y":-15.3},{"x":322,"y":-15.5},{"x":324,"y":-15.1},{"x":326,"y":-15.4},{"x":328,"y":-14.8},{"x":330,"y":-15.3},{"x":332,"y":-14.9},{"x":334,"y":-15.5},{"x":336,"y":-15.2},{"x":338,"y":-15.4},{"x":340,"y":-15.1},{"x":342,"y":-15.6},{"x":344,"y":-15.3},{"x":346,"y":-15.5},{"x":348,"y":-15.2},{"x":350,"y":-14.5},{"x":352,"y":-15.3},{"x":354,"y":-15.1},{"x":356,"y":-15.4},{"x":358,"y":-15.2},{"x":360,"y":-15.5},{"x":362,"y":-15.3},{"x":364,"y":-15.6},{"x":366,"y":-15.2},{"x":368,"y":-15.4},{"x":370,"y":-15.1},{"x":372,"y":-15.5},{"x":374,"y":-15.3},{"x":376,"y":-15.4},{"x":378,"y":-14.9},{"x":380,"y":-15.4},{"x":382,"y":-15.2},{"x":384,"y":-15.5},{"x":386,"y":-14.2},{"x":388,"y":-15.3},{"x":390,"y":-15.1},{"x":392,"y":-15.4},{"x":394,"y":-14.3},{"x":396,"y":-15.5},{"x":398,"y":-15.3},{"x":400,"y":-15.6},{"x":402,"y":-15.2},{"x":404,"y":-15.5},{"x":406,"y":-15.3},{"x":408,"y":-15.6},{"x":410,"y":-15.4},{"x":412,"y":-15.7},{"x":414,"y":-15.3},{"x":416,"y":-15.5},{"x":418,"y":-15.2},{"x":420,"y":-15.4},{"x":422,"y":-15.6},{"x":424,"y":-15.3},{"x":426,"y":-15.5},{"x":428,"y":-15.2},{"x":430,"y":-14.9},{"x":432,"y":-15.3},{"x":434,"y":-15.5},{"x":436,"y":-15.2},{"x":438,"y":-15.4},{"x":440,"y":-15.3},{"x":442,"y":-15.5},{"x":444,"y":-15.2},{"x":446,"y":-15.4},{"x":448,"y":-14.9},{"x":450,"y":-15.3},{"x":452,"y":-15.1},{"x":454,"y":-15.4},{"x":456,"y":-15.2},{"x":458,"y":-15.5},{"x":460,"y":-15.0},{"x":462,"y":-15.4},{"x":464,"y":-15.2},{"x":466,"y":-15.5},{"x":468,"y":-15.1},{"x":470,"y":-15.4},{"x":472,"y":-14.8},{"x":474,"y":-15.3},{"x":476,"y":-15.0},{"x":478,"y":-15.4},{"x":480,"y":-14.6},{"x":482,"y":-15.2},{"x":484,"y":-15.5},{"x":486,"y":-15.1},{"x":488,"y":-15.4},{"x":490,"y":-14.6},{"x":492,"y":-15.5},{"x":494,"y":-14.6},{"x":496,"y":-15.3},{"x":498,"y":-15.4},{"x":500,"y":-15.4}]
},
"concat": [
{"title": "A1 (0.6% correct)", "width": 447, "height": 167, "data": {"name": "A1"},
 "layer": [
  {"mark": {"type": "line", "color": "#ff0000", "strokeWidth": 1, "clip": true},
   "encoding": {
    "x": {"field": "x", "type": "quantitative", "scale": {"domain": [1, 500], "nice": false, "zero": false}, "axis": {"orient": "bottom", "title": null, "values": [50,100,150,200,250,300,350,400,450,500], "labelPadding": 23}},
    "y": {"field": "y", "type": "quantitative", "scale": {"domain": [-16, 0], "nice": false}, "axis": {"orient": "left", "title": null, "values": [0,-2,-4,-6,-8,-10,-12,-14,-16], "labelPadding": 20}}}},
  {"mark": {"type": "line", "opacity": 0},
   "encoding": {
    "x": {"field": "x", "type": "quantitative", "axis": {"orient": "top", "title": null, "labels": false, "values": [50,100,150,200,250,300,350,400,450,500]}},
    "y": {"field": "y", "type": "quantitative", "axis": {"orient": "right", "title": null, "labels": false, "values": [0,-2,-4,-6,-8,-10,-12,-14,-16]}}}}
 ],
 "resolve": {"axis": {"x": "independent", "y": "independent"}}},
{"title": "A2 (1.2% correct)", "width": 447, "height": 167, "data": {"name": "A2"},
 "layer": [
  {"mark": {"type": "line", "color": "#ff0000", "strokeWidth": 1, "clip": true},
   "encoding": {
    "x": {"field": "x", "type": "quantitative", "scale": {"domain": [1, 500], "nice": false, "zero": false}, "axis": {"orient": "bottom", "title": null, "values": [50,100,150,200,250,300,350,400,450,500], "labelPadding": 23}},
    "y": {"field": "y", "type": "quantitative", "scale": {"domain": [-16, 0], "nice": false}, "axis": {"orient": "left", "title": null, "values": [0,-2,-4,-6,-8,-10,-12,-14,-16], "labelPadding": 20}}}},
  {"mark": {"type": "line", "opacity": 0},
   "encoding": {
    "x": {"field": "x", "type": "quantitative", "axis": {"orient": "top", "title": null, "labels": false, "values": [50,100,150,200,250,300,350,400,450,500]}},
    "y": {"field": "y", "type": "quantitative", "axis": {"orient": "right", "title": null, "labels": false, "values": [0,-2,-4,-6,-8,-10,-12,-14,-16]}}}}
 ],
 "resolve": {"axis": {"x": "independent", "y": "independent"}}},
{"title": "A3 (84.6% correct)", "width": 447, "height": 167, "data": {"name": "A3"},
 "layer": [
  {"mark": {"type": "line", "color": "#ff0000", "strokeWidth": 1, "clip": true},
   "encoding": {
    "x": {"field": "x", "type": "quantitative", "scale": {"domain": [1, 500], "nice": false, "zero": false}, "axis": {"orient": "bottom", "title": null, "values": [50,100,150,200,250,300,350,400,450,500], "labelPadding": 23}},
    "y": {"field": "y", "type": "quantitative", "scale": {"domain": [-16, 0], "nice": false}, "axis": {"orient": "left", "title": null, "values": [0,-2,-4,-6,-8,-10,-12,-14,-16], "labelPadding": 20}}}},
  {"mark": {"type": "line", "opacity": 0},
   "encoding": {
    "x": {"field": "x", "type": "quantitative", "axis": {"orient": "top", "title": null, "labels": false, "values": [50,100,150,200,250,300,350,400,450,500]}},
    "y": {"field": "y", "type": "quantitative", "axis": {"orient": "right", "title": null, "labels": false, "values": [0,-2,-4,-6,-8,-10,-12,-14,-16]}}}}
 ],
 "resolve": {"axis": {"x": "independent", "y": "independent"}}},
{"title": "A4 (100.0% correct)", "width": 447, "height": 167, "data": {"name": "A4"},
 "layer": [
  {"mark": {"type": "line", "color": "#ff0000", "strokeWidth": 1, "clip": true},
   "encoding": {
    "x": {"field": "x", "type": "quantitative", "scale": {"domain": [1, 500], "nice": false, "zero": false}, "axis": {"orient": "bottom", "title": null, "values": [50,100,150,200,250,300,350,400,450,500], "labelPadding": 23}},
    "y": {"field": "y", "type": "quantitative", "scale": {"domain": [-16, 0], "nice": false}, "axis": {"orient": "left", "title": null, "values": [0,-2,-4,-6,-8,-10,-12,-14,-16], "labelPadding": 20}}}},
  {"mark": {"type": "line", "opacity": 0},
   "encoding": {
    "x": {"field": "x", "type": "quantitative", "axis": {"orient": "top", "title": null, "labels": false, "values": [50,100,150,200,250,300,350,400,450,500]}},
    "y": {"field": "y", "type": "quantitative", "axis": {"orient": "right", "title": null, "labels": false, "values": [0,-2,-4,-6,-8,-10,-12,-14,-16]}}}}
 ],
 "resolve": {"axis": {"x": "independent", "y": "independent"}}},
{"title": "A5 (90.0% correct)", "width": 447, "height": 167, "data": {"name": "A5"},
 "layer": [
  {"mark": {"type": "line", "color": "#ff0000", "strokeWidth": 1, "clip": true},
   "encoding": {
    "x": {"field": "x", "type": "quantitative", "scale": {"domain": [1, 500], "nice": false, "zero": false}, "axis": {"orient": "bottom", "title": null, "values": [50,100,150,200,250,300,350,400,450,500], "labelPadding": 23}},
    "y": {"field": "y", "type": "quantitative", "scale": {"domain": [-16, 0], "nice": false}, "axis": {"orient": "left", "title": null, "values": [0,-2,-4,-6,-8,-10,-12,-14,-16], "labelPadding": 20}}}},
  {"mark": {"type": "line", "opacity": 0},
   "encoding": {
    "x": {"field": "x", "type": "quantitative", "axis": {"orient": "top", "title": null, "labels": false, "values": [50,100,150,200,250,300,350,400,450,500]}},
    "y": {"field": "y", "type": "quantitative", "axis": {"orient": "right", "title": null, "labels": false, "values": [0,-2,-4,-6,-8,-10,-12,-14,-16]}}}}
 ],
 "resolve": {"axis": {"x": "independent", "y": "independent"}}},
{"title": "A6 (100.0% correct)", "width": 447, "height": 167, "data": {"name": "A6"},
 "layer": [
  {"mark": {"type": "line", "color": "#ff0000", "strokeWidth": 1, "clip": true},
   "encoding": {
    "x": {"field": "x", "type": "quantitative", "scale": {"domain": [1, 500], "nice": false, "zero": false}, "axis": {"orient": "bottom", "title": null, "values": [50,100,150,200,250,300,350,400,450,500], "labelPadding": 23}},
    "y": {"field": "y", "type": "quantitative", "scale": {"domain": [-16, 0], "nice": false}, "axis": {"orient": "left", "title": null, "values": [0,-2,-4,-6,-8,-10,-12,-14,-16], "labelPadding": 20}}}},
  {"mark": {"type": "line", "opacity": 0},
   "encoding": {
    "x": {"field": "x", "type": "quantitative", "axis": {"orient": "top", "title": null, "labels": false, "values": [50,100,150,200,250,300,350,400,450,500]}},
    "y": {"field": "y", "type": "quantitative", "axis": {"orient": "right", "title": null, "labels": false, "values": [0,-2,-4,-6,-8,-10,-12,-14,-16]}}}}
 ],
 "resolve": {"axis": {"x": "independent", "y": "independent"}}}
]
}
